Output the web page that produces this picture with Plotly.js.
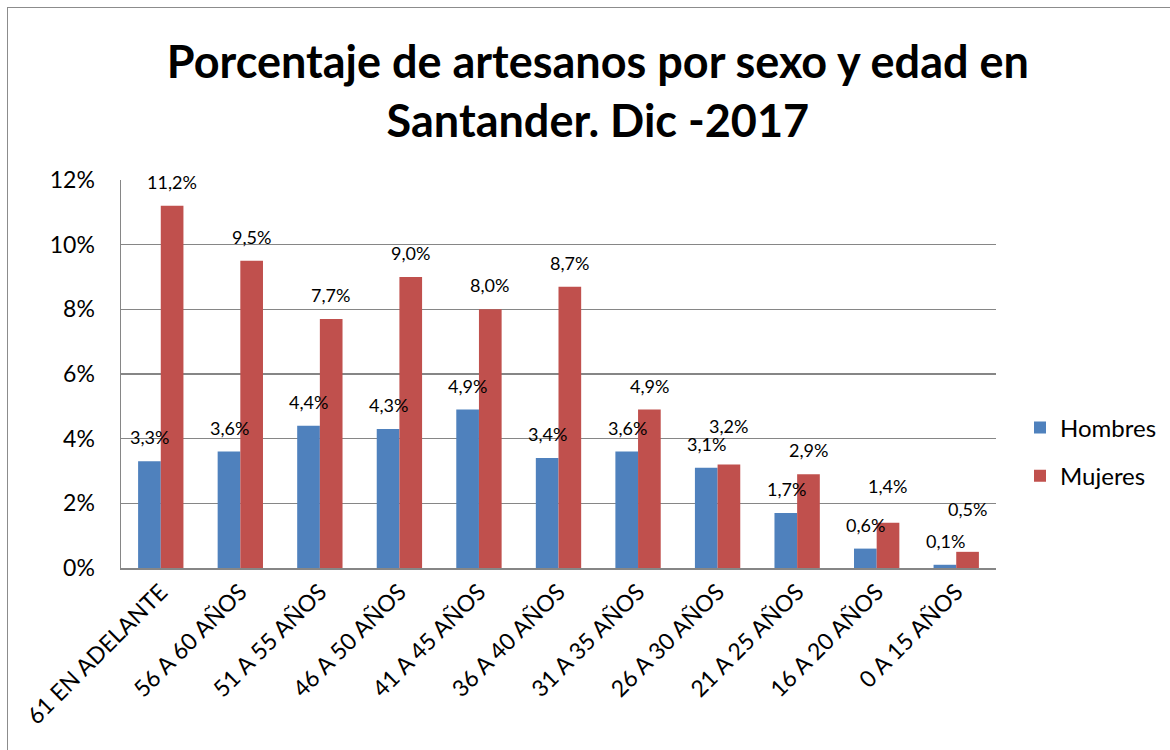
<!DOCTYPE html>
<html>
<head>
<meta charset="utf-8">
<script src="https://cdn.plot.ly/plotly-3.0.1.min.js"></script>
<style>
  body { margin: 0; background: #fff; }
  #wrap { position: relative; width: 1170px; height: 750px; overflow: hidden; }
  #chart { width: 1170px; height: 750px; }
  #frame { position: absolute; left: 7px; top: 7px; width: 1170px; height: 800px;
           border: 1px solid #8c8c8c; pointer-events: none; }
</style>
</head>
<body>
<div id="wrap">
  <div id="chart"></div>
  <div id="frame"></div>
</div>
<script>
const categories = ["61 EN ADELANTE", "56 A 60 AÑOS", "51 A 55 AÑOS", "46 A 50 AÑOS", "41 A 45 AÑOS",
  "36 A 40 AÑOS", "31 A 35 AÑOS", "26 A 30 AÑOS", "21 A 25 AÑOS", "16 A 20 AÑOS", "0 A 15 AÑOS"];
const hombres = [0.033, 0.036, 0.044, 0.043, 0.049, 0.034, 0.036, 0.031, 0.017, 0.006, 0.001];
const mujeres = [0.112, 0.095, 0.077, 0.090, 0.080, 0.087, 0.049, 0.032, 0.029, 0.014, 0.005];
const seriesNames = ["Hombres", "Mujeres"];
const colors = ["#4F81BD", "#C0504D"];
// extra label lift (px) where the original chart moved labels to avoid collisions
const labelLiftH = [0, 0, 0, 0, 0, 0, 0, 0, 0, 0, 0];
const labelLiftM = [0, 0, 0, 0, 0, 0, 0, 15, 0, 13, 19];

function fmt(v) { return (v * 100).toFixed(1).replace(".", ",") + "%"; }

const FONT = "Lato, 'Noto Sans', sans-serif";

const traces = [hombres, mujeres].map((vals, i) => ({
  type: "bar",
  name: seriesNames[i],
  legendgroup: "g" + i,
  x: categories,
  y: vals,
  marker: { color: colors[i] },
  hoverinfo: "skip"
}));

const annotations = [];
[[hombres, labelLiftH], [mujeres, labelLiftM]].forEach(([vals, lift], i) => {
  vals.forEach((v, j) => {
    annotations.push({
      x: categories[j], y: v, xref: "x", yref: "y",
      text: fmt(v), showarrow: false,
      xshift: i === 0 ? -11 : 11, yshift: 24 + lift[j],
      font: { family: FONT, size: 18, color: "#000" }
    });
  });
});

const layout = {
  width: 1170, height: 750,
  margin: { l: 121, r: 174, t: 180, b: 182 },
  paper_bgcolor: "#fff", plot_bgcolor: "#fff",
  separators: ",.",
  title: {
    text: "Porcentaje de artesanos por sexo y edad en<br>Santander. Dic -2017",
    font: { family: FONT, size: 45, color: "#000", weight: "bold" },
    x: 0.511, xanchor: "center", yref: "container", y: 1 - 78 / 750, yanchor: "middle"
  },
  barmode: "group",
  bargap: 0.43, bargroupgap: 0,
  showlegend: true,
  legend: {
    xref: "container", yref: "container",
    x: 1020 / 1170, xanchor: "left", y: 1 - 452 / 750, yanchor: "middle",
    font: { family: FONT, size: 24, color: "#000" },
    tracegroupgap: 14, itemwidth: 30
  },
  xaxis: {
    type: "category",
    tickangle: -45,
    tickfont: { family: FONT, size: 23, color: "#000" },
    showline: true, linecolor: "#868686", linewidth: 1.5,
    showgrid: false, ticks: "", automargin: false
  },
  yaxis: {
    range: [0, 0.12], dtick: 0.02, tickformat: ".0%",
    tickfont: { family: FONT, size: 23, color: "#000" },
    showgrid: true, gridcolor: "#868686", gridwidth: 1.5,
    showline: true, linecolor: "#868686", linewidth: 1.5,
    zeroline: false, ticks: "", ticklen: 0, ticklabelstandoff: 20, automargin: false
  },
  annotations: annotations
};

Plotly.newPlot("chart", traces, layout, { displayModeBar: false, staticPlot: true });
</script>
</body>
</html>
